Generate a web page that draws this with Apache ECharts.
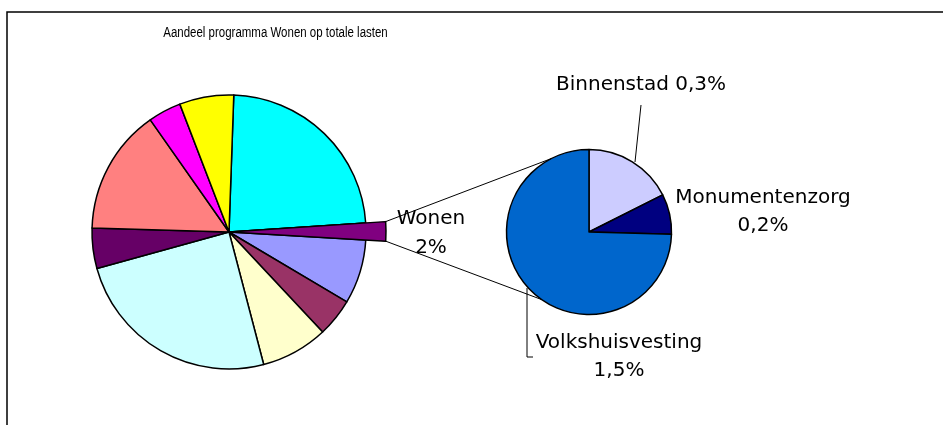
<!DOCTYPE html>
<html>
<head>
<meta charset="utf-8">
<title>Aandeel programma Wonen op totale lasten</title>
<script src="https://cdn.jsdelivr.net/npm/echarts@6/dist/echarts.min.js"></script>
<style>
  html, body { margin: 0; padding: 0; background: #fff; }
  #chart { width: 943px; height: 425px; }
</style>
</head>
<body>
<div id="chart"></div>
<script>
// hoofdtaart: de overige programma's (geen labels in de grafiek), Wonen komt als tweede segment
const otherCategories = ["Programma 1", "Programma 2", "Programma 3", "Programma 4", "Programma 5",
  "Programma 6", "Programma 7", "Programma 8", "Programma 9"];
const otherValues = [23.4, 7.6, 4.5, 7.9, 24.8, 4.75, 14.8, 3.9, 6.4];

// uitsplitsing Wonen (tweede taart)
const subCategories = ["Binnenstad", "Monumentenzorg", "Volkshuisvesting"];
const subValues = [0.349, 0.156, 1.48];

const wonenName = "Wonen";
const wonenValue = subValues.reduce((a, b) => a + b, 0);

const mainCategories = [otherCategories[0], wonenName].concat(otherCategories.slice(1));
const mainValues = [otherValues[0], wonenValue].concat(otherValues.slice(1));

const mainColors = ["#00FFFF", "#800080", "#9999FF", "#993366", "#FFFFCC", "#CCFFFF",
  "#660066", "#FF8080", "#FF00FF", "#FFFF00"];
const subColors = ["#CCCCFF", "#000080", "#0066CC"];

const mainCenter = [229, 232];
const mainRadius = 137;
const wonenRadius = 157;
const mainStart = 2; // graden met de klok mee vanaf boven
const subCenter = [589, 232];
const subRadius = 82.5;

const labelFont = "DejaVu Sans";

function pct(v, digits) {
  return v.toFixed(digits).replace(".", ",") + "%";
}

function pt(c, r, deg) {
  const a = deg * Math.PI / 180;
  return [c[0] + r * Math.sin(a), c[1] - r * Math.cos(a)];
}

// hoeken van het Wonen-segment
const mainTotal = mainValues.reduce((a, b) => a + b, 0);
const wonenIdx = mainCategories.indexOf(wonenName);
let before = 0;
for (let i = 0; i < wonenIdx; i++) before += mainValues[i];
const wonenFrom = mainStart + before / mainTotal * 360;
const wonenTo = wonenFrom + wonenValue / mainTotal * 360;

const upperA = pt(mainCenter, wonenRadius, wonenFrom);
const lowerA = pt(mainCenter, wonenRadius, wonenTo);
const upperB = pt(subCenter, subRadius, 333);
const lowerB = pt(subCenter, subRadius, 215);

const border = { borderColor: "#000", borderWidth: 1.5 };

const subLabels = {
  Binnenstad: { x: 641, y: 85, sep: " ", line: [[641, 105], [635, 162]] },
  Monumentenzorg: { x: 763, y: 212, sep: "\n", line: null },
  Volkshuisvesting: { x: 619, y: 357, sep: "\n", line: [[527, 288], [527, 357], [533, 357]] }
};

const myChart = echarts.init(document.getElementById("chart"));
myChart.setOption({
  animation: false,
  graphic: [
    {
      type: "rect",
      shape: { x: 7, y: 12, width: 1200, height: 1200 },
      style: { fill: "none", stroke: "#000", lineWidth: 1.5 },
      silent: true
    },
    {
      // titel in een smal lettertype (horizontaal samengedrukt)
      type: "text",
      x: 275.5,
      y: 33,
      scaleX: 0.82,
      silent: true,
      style: {
        text: "Aandeel programma Wonen op totale lasten",
        fontFamily: "Liberation Sans",
        fontSize: 14,
        fill: "#000",
        align: "center",
        verticalAlign: "middle"
      }
    },
    {
      type: "line",
      shape: { x1: upperA[0], y1: upperA[1], x2: upperB[0], y2: upperB[1] },
      style: { stroke: "#000", lineWidth: 1 },
      z: 10
    },
    {
      type: "line",
      shape: { x1: lowerA[0], y1: lowerA[1], x2: lowerB[0], y2: lowerB[1] },
      style: { stroke: "#000", lineWidth: 1 },
      z: 10
    }
  ],
  series: [
    {
      name: "totaal",
      type: "pie",
      center: mainCenter,
      radius: mainRadius,
      startAngle: 90 - mainStart,
      clockwise: true,
      emphasis: { disabled: true },
      label: { show: false },
      labelLine: { show: false },
      data: mainCategories.map((n, i) => ({
        name: n,
        value: mainValues[i],
        itemStyle: Object.assign({ color: mainColors[i] }, border)
      }))
    },
    {
      // het Wonen-segment steekt iets verder uit
      name: "wonen",
      type: "pie",
      center: mainCenter,
      radius: wonenRadius,
      startAngle: 90 - mainStart,
      clockwise: true,
      silent: true,
      emphasis: { disabled: true },
      labelLine: { show: false },
      label: {
        show: true,
        fontFamily: labelFont,
        fontSize: 20,
        lineHeight: 29,
        color: "#000",
        formatter: p => p.name + "\n" + pct(p.value, 0)
      },
      labelLayout: p => p.dataIndex === wonenIdx
        ? { x: 431, y: 233, align: "center", verticalAlign: "middle" }
        : {},
      data: mainCategories.map((n, i) => n === wonenName
        ? { name: n, value: mainValues[i], itemStyle: Object.assign({ color: mainColors[i] }, border) }
        : { name: n, value: mainValues[i], itemStyle: { color: "rgba(0,0,0,0)", borderWidth: 0 }, label: { show: false } })
    },
    {
      name: wonenName,
      type: "pie",
      center: subCenter,
      radius: subRadius,
      startAngle: 90,
      clockwise: true,
      emphasis: { disabled: true },
      label: {
        show: true,
        fontFamily: labelFont,
        fontSize: 20,
        lineHeight: 28,
        color: "#000",
        formatter: p => p.name + subLabels[p.name].sep + pct(p.value, 1)
      },
      labelLine: { show: true, lineStyle: { color: "#000", width: 1 } },
      labelLayout: p => {
        const l = subLabels[subCategories[p.dataIndex]];
        const out = { x: l.x, y: l.y, align: "center", verticalAlign: "middle" };
        if (l.line) out.labelLinePoints = l.line;
        return out;
      },
      data: subCategories.map((n, i) => ({
        name: n,
        value: subValues[i],
        itemStyle: Object.assign({ color: subColors[i] }, border),
        labelLine: { show: !!subLabels[n].line }
      }))
    }
  ]
});
</script>
</body>
</html>
